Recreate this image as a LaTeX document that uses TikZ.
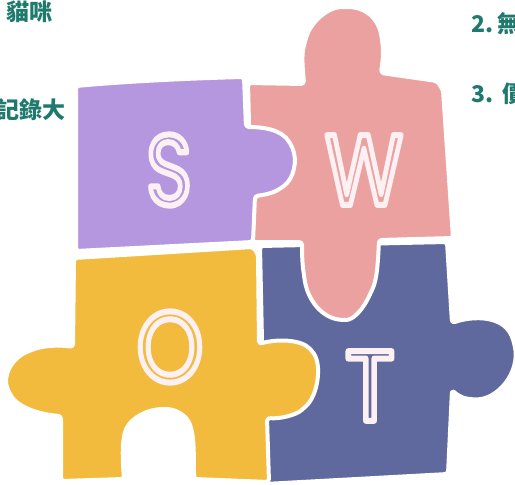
\documentclass[tikz,border=0pt]{standalone}
\usepackage{fontspec}
\newfontfamily\cjk{Noto Sans CJK TC}
\newfontfamily\letterfont{Poppins}
\definecolor{swotS}{HTML}{B597E0}
\definecolor{swotW}{HTML}{EBA19F}
\definecolor{swotO}{HTML}{F2BB3E}
\definecolor{swotT}{HTML}{5F699D}
\definecolor{noteteal}{HTML}{1F7A6E}
% letter set in fill + stroke mode: pale rim around the glyph
\newcommand\rimmed[1]{\special{pdf:literal direct 2 Tr 6 w 1 j 0.992 0.941 0.953 RG}#1\special{pdf:literal direct 0 Tr}}
\begin{document}
\begin{tikzpicture}[x=1pt,y=-1pt,
  piece/.style={draw=white, line width=4pt, line join=round, rounded corners=3pt},
  letter/.style={inner sep=0pt, font=\letterfont\fontsize{100}{100}\selectfont},
  note/.style={inner sep=0pt, text=noteteal, font=\cjk\bfseries\fontsize{23}{23}\selectfont}]
\useasboundingbox (0,0) rectangle (515,485);

% T piece (navy), bottom right
\path[piece, fill=swotT] (260,246) -- (447,242) -- (452,323)
  .. controls (472,316) and (506,314) .. (514,343)
  .. controls (521,372) and (497,402) .. (470,399)
  .. controls (462,398) and (456,394) .. (452,390)
  -- (448,474) -- (265,484) -- cycle;

% W piece (pink), top right, with knob on top and tab downwards
\path[piece, fill=swotW] (248,83) -- (304,84)
  .. controls (303,70) and (301,55) .. (305,42)
  .. controls (310,22) and (328,7) .. (345,7)
  .. controls (365,7) and (379,18) .. (382,40)
  .. controls (384,55) and (382,65) .. (381,73)
  -- (437,81) -- (443,90) -- (453,238) -- (379,240)
  .. controls (378,262) and (377,280) .. (371,292)
  .. controls (363,310) and (353,320) .. (343,320)
  .. controls (322,318) and (307,300) .. (304,275)
  .. controls (302,262) and (302,250) .. (302,242)
  -- (252,242) -- cycle;

% O piece (yellow), bottom left
\path[piece, fill=swotO] (74,258) -- (253,247) -- (258,254) -- (259,344)
  .. controls (276,339) and (301,339) .. (312,351)
  .. controls (322,365) and (318,395) .. (304,408)
  .. controls (296,415) and (281,419) .. (267,418)
  -- (269,482) -- (194,479)
  .. controls (194,460) and (194,440) .. (191,428)
  .. controls (187,415) and (175,409) .. (163,409)
  .. controls (145,410) and (127,420) .. (124,437)
  .. controls (122,450) and (123,465) .. (124,479)
  -- (61,481) -- (61,416)
  .. controls (44,415) and (18,409) .. (9,392)
  .. controls (2,377) and (11,359) .. (29,351)
  .. controls (44,345) and (61,345) .. (73,347) -- cycle;

% S piece (purple), top left, with tab to the right
\path[piece, fill=swotS] (76,86) .. controls (130,81) and (200,78) .. (244,77)
  -- (246,127)
  .. controls (262,127) and (282,129) .. (291,145)
  .. controls (298,160) and (294,179) .. (281,188)
  .. controls (273,193) and (264,195) .. (255,196)
  -- (253,242) -- (76,251) -- cycle;

% letters
\node[letter, text=swotS, xscale=0.78] (s) at (169,170) {\rimmed{S}};
\node[letter, text=swotW, xscale=0.8] (w) at (364,170) {\rimmed{W}};
\node[letter, text=swotO, xscale=0.85] (o) at (170,347) {\rimmed{O}};
\node[letter, text=swotT, xscale=0.92] (t) at (370,386) {\rimmed{T}};

% list fragments around the puzzle
\node[note, anchor=east] (n1) at (53,12) {貓咪};
\node[note, anchor=east] (n2) at (66,110) {記錄大};
\node[note, anchor=west] (n3) at (471,24) {2.\,無};
\node[note, anchor=west] (n4) at (471,94) {3.\ \,價};
\end{tikzpicture}
\end{document}
